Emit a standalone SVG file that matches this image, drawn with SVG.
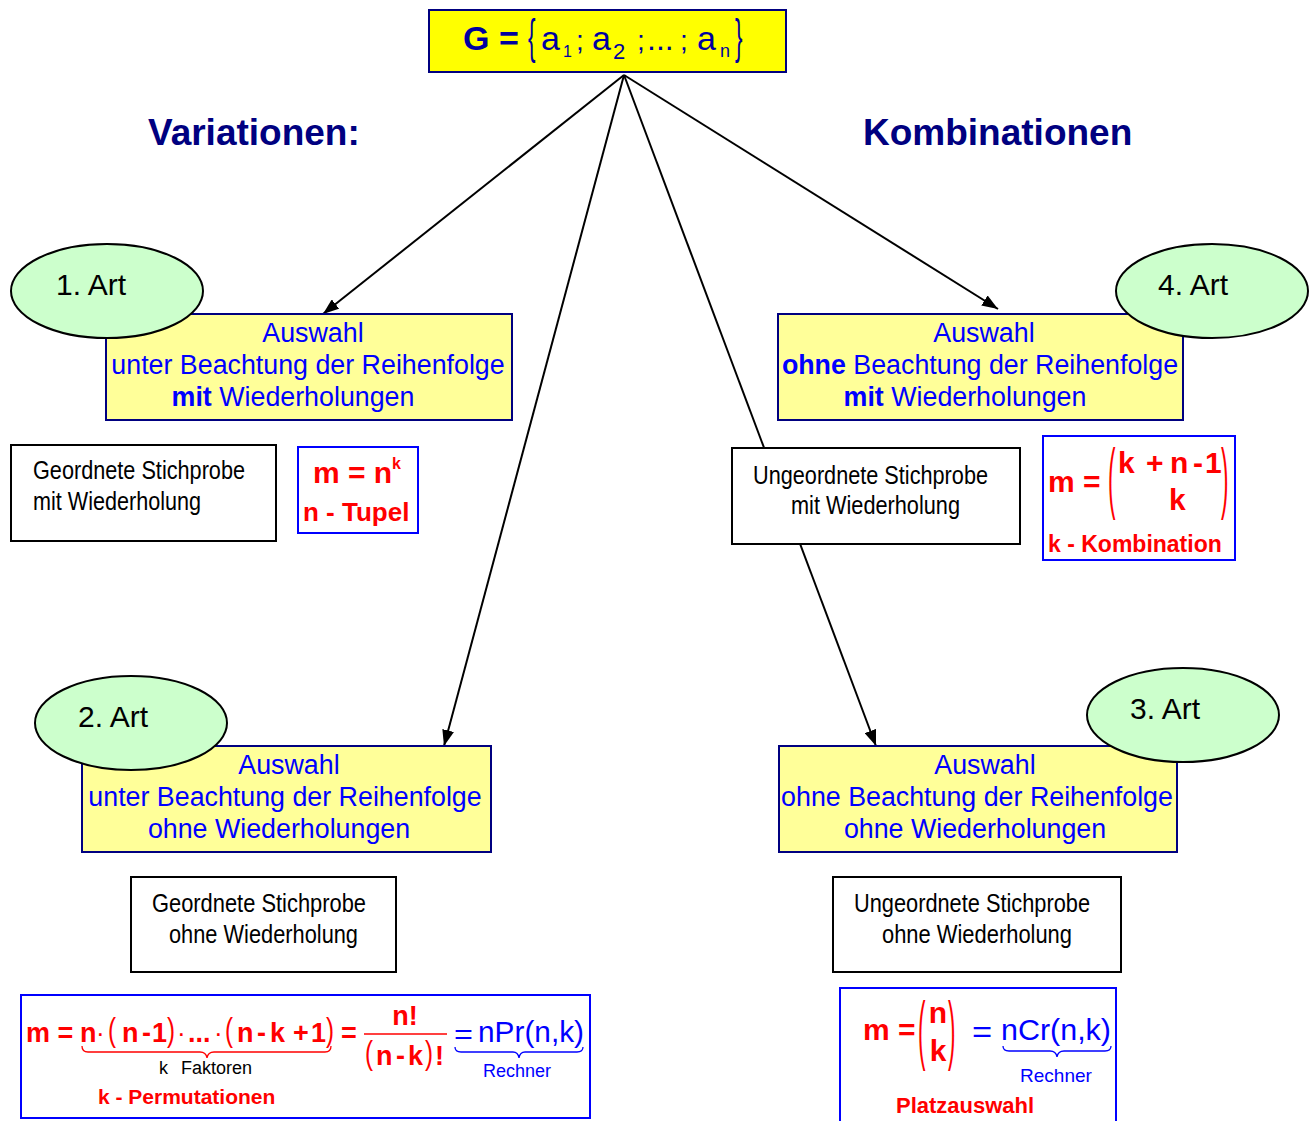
<svg xmlns="http://www.w3.org/2000/svg" width="1314" height="1121" viewBox="0 0 1314 1121">
<defs>
<marker id="ah" markerUnits="userSpaceOnUse" viewBox="0 0 16 12" refX="16" refY="6" markerWidth="16" markerHeight="12" orient="auto">
<path d="M0,0 L16,6 L0,12 z" fill="#000"/>
</marker>
</defs>
<style>
text{font-family:"Liberation Sans",Arial,sans-serif}
.top{fill:#FFFF00;stroke:#000080;stroke-width:2}
.topT{fill:#0000A0}
.title{font-size:37px;font-weight:bold;fill:#000080}
.art{fill:#CCFFCC;stroke:#000;stroke-width:2}
.artT{font-size:30px;fill:#000}
.sel{fill:#FFFF99;stroke:#000080;stroke-width:2}
.selT{font-size:26.8px;fill:#0000FF;text-anchor:middle}
.sp{fill:#fff;stroke:#000;stroke-width:2}
.spT{font-family:"Liberation Sans Narrow","Liberation Sans",Arial,sans-serif;font-size:25.5px;fill:#000}
.fb{fill:#fff;stroke:#0000FF;stroke-width:2}
.r{font-weight:bold;fill:#FF0000}
.rn{fill:#FF0000}
.b{fill:#0000FF}
.conn{stroke:#000;stroke-width:2;fill:none;marker-end:url(#ah)}
.brR{stroke:#FF0000;stroke-width:1.3;fill:none}
.brB{stroke:#0000FF;stroke-width:1.3;fill:none}
</style>
<rect width="1314" height="1121" fill="#fff"/>

<g id="connectors">
<line class="conn" x1="624" y1="75" x2="323" y2="314"/>
<line class="conn" x1="624" y1="75" x2="444" y2="746"/>
<line class="conn" x1="624" y1="75" x2="876" y2="746"/>
<line class="conn" x1="624" y1="75" x2="998" y2="309"/>
</g>

<g id="menge">
<rect class="top" x="429" y="10" width="357" height="62"/>
<text class="topT" x="463" y="50" font-size="34" font-weight="bold">G =</text>
<text class="topT" font-size="30" transform="translate(528,53) scale(0.75,1.6)">{</text>
<text class="topT" x="541" y="50" font-size="34">a</text>
<text class="topT" x="563" y="57" font-size="16">1</text>
<text class="topT" x="576" y="50" font-size="28">;</text>
<text class="topT" x="592" y="50" font-size="34">a</text>
<text class="topT" x="613" y="59" font-size="22">2</text>
<text class="topT" x="637" y="50" font-size="28">;</text>
<text class="topT" x="647" y="50" font-size="32">...</text>
<text class="topT" x="680" y="50" font-size="28">;</text>
<text class="topT" x="697" y="50" font-size="34">a</text>
<text class="topT" x="720" y="57" font-size="18">n</text>
<text class="topT" font-size="30" transform="translate(735,53) scale(0.75,1.6)">}</text>
</g>

<g id="titel-variationen"><text class="title" x="148" y="145">Variationen:</text></g>
<g id="titel-kombinationen"><text class="title" x="863" y="145">Kombinationen</text></g>

<g id="art1">
<rect class="sel" x="106" y="314" width="406" height="106"/>
<text class="selT" x="313" y="342">Auswahl</text>
<text class="selT" x="308" y="374">unter Beachtung der Reihenfolge</text>
<text class="selT" x="293" y="406"><tspan font-weight="bold">mit</tspan> Wiederholungen</text>
<ellipse class="art" cx="107" cy="291" rx="96" ry="47"/>
<text class="artT" x="56" y="295">1. Art</text>
</g>

<g id="art4">
<rect class="sel" x="778" y="314" width="405" height="106"/>
<text class="selT" x="984" y="342">Auswahl</text>
<text class="selT" x="980" y="374"><tspan font-weight="bold">ohne</tspan> Beachtung der Reihenfolge</text>
<text class="selT" x="965" y="406"><tspan font-weight="bold">mit</tspan> Wiederholungen</text>
<ellipse class="art" cx="1212" cy="291" rx="96" ry="47"/>
<text class="artT" x="1158" y="295">4. Art</text>
</g>

<g id="art2">
<rect class="sel" x="82" y="746" width="409" height="106"/>
<text class="selT" x="289" y="774">Auswahl</text>
<text class="selT" x="285" y="806">unter Beachtung der Reihenfolge</text>
<text class="selT" x="279" y="838">ohne Wiederholungen</text>
<ellipse class="art" cx="131" cy="723" rx="96" ry="47"/>
<text class="artT" x="78" y="727">2. Art</text>
</g>

<g id="art3">
<rect class="sel" x="779" y="746" width="398" height="106"/>
<text class="selT" x="985" y="774">Auswahl</text>
<text class="selT" x="977" y="806">ohne Beachtung der Reihenfolge</text>
<text class="selT" x="975" y="838">ohne Wiederholungen</text>
<ellipse class="art" cx="1183" cy="715" rx="96" ry="47"/>
<text class="artT" x="1130" y="719">3. Art</text>
</g>

<g id="stichprobe1">
<rect class="sp" x="11" y="445" width="265" height="96"/>
<text class="spT" x="33" y="479" textLength="212" lengthAdjust="spacingAndGlyphs">Geordnete Stichprobe</text>
<text class="spT" x="33" y="510" textLength="168" lengthAdjust="spacingAndGlyphs">mit Wiederholung</text>
</g>

<g id="stichprobe4">
<rect class="sp" x="732" y="448" width="288" height="96"/>
<text class="spT" x="753" y="484" textLength="235" lengthAdjust="spacingAndGlyphs">Ungeordnete Stichprobe</text>
<text class="spT" x="791" y="514" textLength="169" lengthAdjust="spacingAndGlyphs">mit Wiederholung</text>
</g>

<g id="stichprobe2">
<rect class="sp" x="131" y="877" width="265" height="95"/>
<text class="spT" x="152" y="912" textLength="214" lengthAdjust="spacingAndGlyphs">Geordnete Stichprobe</text>
<text class="spT" x="169" y="943" textLength="189" lengthAdjust="spacingAndGlyphs">ohne Wiederholung</text>
</g>

<g id="stichprobe3">
<rect class="sp" x="833" y="877" width="288" height="95"/>
<text class="spT" x="854" y="912" textLength="236" lengthAdjust="spacingAndGlyphs">Ungeordnete Stichprobe</text>
<text class="spT" x="882" y="943" textLength="190" lengthAdjust="spacingAndGlyphs">ohne Wiederholung</text>
</g>

<g id="formel1">
<rect class="fb" x="298" y="447" width="120" height="86"/>
<text class="r" x="313" y="483" font-size="30">m = n</text>
<text class="r" x="392" y="469" font-size="16">k</text>
<text class="r" x="303" y="521" font-size="26">n - Tupel</text>
</g>

<g id="formel4">
<rect class="fb" x="1043" y="436" width="192" height="124"/>
<text class="r" x="1048" y="492" font-size="30">m =</text>
<text class="rn" font-size="32" transform="translate(1108,503.5) scale(0.7,2.45)">(</text>
<text class="r" font-size="30" y="473"><tspan x="1118">k</tspan><tspan x="1146">+</tspan><tspan x="1170">n</tspan><tspan x="1193">-</tspan><tspan x="1205">1</tspan></text>
<text class="r" x="1169" y="510" font-size="30">k</text>
<text class="rn" font-size="32" transform="translate(1221,503.5) scale(0.7,2.45)">)</text>
<text class="r" x="1048" y="552" font-size="23">k - Kombination</text>
</g>

<g id="formel2">
<rect class="fb" x="21" y="995" width="569" height="123"/>
<text class="r" x="26" y="1042" font-size="27">m =</text>
<text class="r" x="80" y="1042" font-size="27">n</text>
<text class="rn" x="96" y="1042" font-size="26">·</text>
<text class="rn" font-size="30" transform="translate(108,1041) scale(0.8,1.1)">(</text>
<text class="r" font-size="27" y="1042"><tspan x="122">n</tspan><tspan x="142">-</tspan><tspan x="152">1</tspan></text>
<text class="rn" font-size="30" transform="translate(167,1041) scale(0.8,1.1)">)</text>
<text class="rn" x="177" y="1042" font-size="26">·</text>
<text class="r" x="188" y="1042" font-size="27">...</text>
<text class="rn" x="214" y="1042" font-size="26">·</text>
<text class="rn" font-size="30" transform="translate(225,1041) scale(0.8,1.1)">(</text>
<text class="r" font-size="27" y="1042"><tspan x="237">n</tspan><tspan x="257">-</tspan><tspan x="270">k</tspan><tspan x="293">+</tspan><tspan x="311">1</tspan></text>
<text class="rn" font-size="30" transform="translate(326,1041) scale(0.8,1.1)">)</text>
<path class="brR" d="M82,1046 Q82,1052 88,1052 L200,1052 Q206,1052 207,1058 Q208,1052 214,1052 L325,1052 Q331,1052 331,1046"/>
<text x="159" y="1074" font-size="18" fill="#000">k</text>
<text x="252" y="1074" font-size="18" fill="#000" text-anchor="end">Faktoren</text>
<text class="r" x="341" y="1042" font-size="27">=</text>
<text class="r" x="405" y="1025" font-size="27" text-anchor="middle">n!</text>
<line x1="364" y1="1034" x2="447" y2="1034" stroke="#FF0000" stroke-width="1.5"/>
<text class="rn" font-size="30" transform="translate(365,1064) scale(0.8,1.1)">(</text>
<text class="r" font-size="27" y="1065"><tspan x="376">n</tspan><tspan x="396">-</tspan><tspan x="408">k</tspan></text>
<text class="rn" font-size="30" transform="translate(425,1064) scale(0.8,1.1)">)</text>
<text class="r" x="435" y="1065" font-size="27">!</text>
<text class="b" font-size="27" transform="translate(454,1044) scale(1.2,1)">=</text>
<text class="b" x="478" y="1042" font-size="29" textLength="106" lengthAdjust="spacingAndGlyphs">nPr(n,k)</text>
<path class="brB" d="M455,1047 Q455,1052 461,1052 L513,1052 Q518,1052 519,1058 Q520,1052 525,1052 L577,1052 Q583,1052 583,1047"/>
<text class="b" x="517" y="1077" font-size="18" text-anchor="middle">Rechner</text>
<text class="r" x="98" y="1104" font-size="21">k - Permutationen</text>
</g>

<g id="formel3">
<rect class="fb" x="840" y="988" width="276" height="140"/>
<text class="r" x="863" y="1040" font-size="30">m =</text>
<text class="rn" font-size="32" transform="translate(918,1055) scale(0.7,2.35)">(</text>
<text class="r" x="938" y="1023" font-size="30" text-anchor="middle">n</text>
<text class="r" x="938" y="1061" font-size="30" text-anchor="middle">k</text>
<text class="rn" font-size="32" transform="translate(948,1055) scale(0.7,2.35)">)</text>
<text class="b" font-size="30" transform="translate(972,1042) scale(1.15,1)">=</text>
<text class="b" x="1001" y="1040" font-size="30" textLength="110" lengthAdjust="spacingAndGlyphs">nCr(n,k)</text>
<path class="brB" d="M1003,1046 Q1003,1051 1009,1051 L1050,1051 Q1056,1051 1057,1057 Q1058,1051 1064,1051 L1105,1051 Q1111,1051 1111,1046"/>
<text class="b" x="1056" y="1082" font-size="19" text-anchor="middle">Rechner</text>
<text class="r" x="896" y="1113" font-size="22">Platzauswahl</text>
</g>
</svg>
